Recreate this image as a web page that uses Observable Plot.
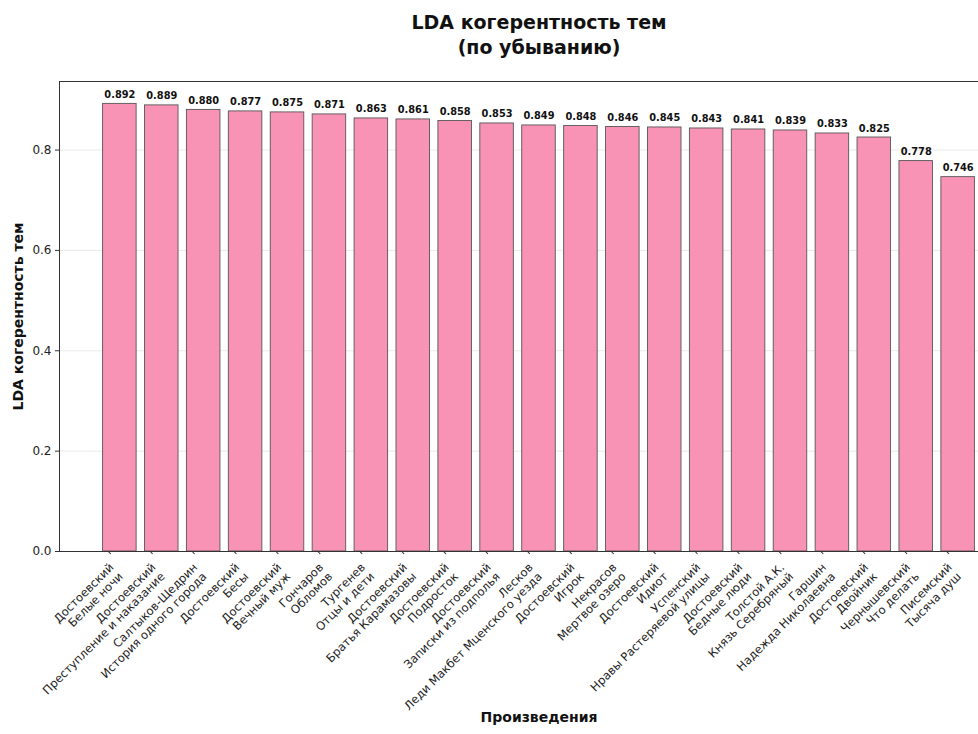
<!DOCTYPE html>
<html><head><meta charset="utf-8">
<script src="https://cdn.jsdelivr.net/npm/d3@7"></script>
<script src="https://cdn.jsdelivr.net/npm/@observablehq/plot@0.6"></script>
<style>
html,body{margin:0;padding:0;background:#fff;overflow:hidden;}
#chart{width:978px;height:734px;overflow:hidden;}
</style>
</head><body><div id="chart"></div>
<script>
const authors = ["Достоевский","Достоевский","Салтыков-Щедрин","Достоевский","Достоевский","Гончаров","Тургенев","Достоевский","Достоевский","Достоевский","Лесков","Достоевский","Некрасов","Достоевский","Успенский","Достоевский","Толстой А.К.","Гаршин","Достоевский","Чернышевский","Писемский"];
const works = ["Белые ночи","Преступление и наказание","История одного города","Бесы","Вечный муж","Обломов","Отцы и дети","Братья Карамазовы","Подросток","Записки из подполья","Леди Макбет Мценского уезда","Игрок","Мертвое озеро","Идиот","Нравы Растеряевой улицы","Бедные люди","Князь Серебряный","Надежда Николаевна","Двойник","Что делать","Тысяча душ"];
const coherence = [0.892,0.889,0.880,0.877,0.875,0.871,0.863,0.861,0.858,0.853,0.849,0.848,0.846,0.845,0.843,0.841,0.839,0.833,0.825,0.778,0.746];
const yTicks = [0, 0.2, 0.4, 0.6, 0.8];
const titleLines = ["LDA когерентность тем", "(по убыванию)"];
const yLabel = "LDA когерентность тем";
const xLabel = "Произведения";

const data = coherence.map((v, i) => ({i, v, label: authors[i] + "\n" + works[i]}));
const font = "DejaVu Sans, sans-serif";

const chart = Plot.plot({
  width: 1030,
  height: 734,
  marginLeft: 59,
  marginRight: 12,
  marginTop: 81,
  marginBottom: 183,
  style: {maxWidth: "none", fontFamily: font, background: "#fff", overflow: "visible"},
  x: {type: "band", domain: d3.range(coherence.length), paddingInner: 0.2, paddingOuter: 1.04, round: false},
  y: {domain: [0, Math.max(...coherence) * 1.05]},
  marks: [
    Plot.gridY(yTicks, {stroke: "#b0b0b0", strokeOpacity: 0.35, strokeWidth: 0.8}),
    Plot.barY(data, {x: "i", y: "v", fill: "#f993b6", stroke: "#555", strokeWidth: 0.9}),
    Plot.text(data, {x: "i", y: "v", text: d => d.v.toFixed(3), dy: -6, lineAnchor: "bottom", fontWeight: "bold", fontSize: 9.8, fill: "#111"}),
    Plot.frame({stroke: "#333", strokeWidth: 1}),
    Plot.axisY(yTicks, {tickFormat: d3.format(".1f"), tickSize: 4, tickPadding: 4, fontSize: 12, label: null, stroke: "#333", color: "#222"}),
    Plot.axisX({tickFormat: i => data[i].label, tickSize: 4, tickPadding: 6, rotate: -45, textAnchor: "end", lineAnchor: "top", lineHeight: 1.12, dx: -12, fontSize: 11.6, label: null, stroke: "#333", color: "#222"}),
    Plot.text([yLabel], {frameAnchor: "left", dx: -41, rotate: -90, textAnchor: "middle", lineAnchor: "middle", fontWeight: "bold", fontSize: 14, fill: "#111", text: d => d}),
    Plot.text([xLabel], {frameAnchor: "bottom", dy: 166, textAnchor: "middle", lineAnchor: "middle", fontWeight: "bold", fontSize: 14, fill: "#111", text: d => d}),
    Plot.text([titleLines[0]], {frameAnchor: "top", dy: -59, textAnchor: "middle", lineAnchor: "middle", fontWeight: "bold", fontSize: 19, fill: "#111", text: d => d}),
    Plot.text([titleLines[1]], {frameAnchor: "top", dy: -34, textAnchor: "middle", lineAnchor: "middle", fontWeight: "bold", fontSize: 19, fill: "#111", text: d => d})
  ]
});
document.getElementById("chart").appendChild(chart);
</script>
</body></html>
